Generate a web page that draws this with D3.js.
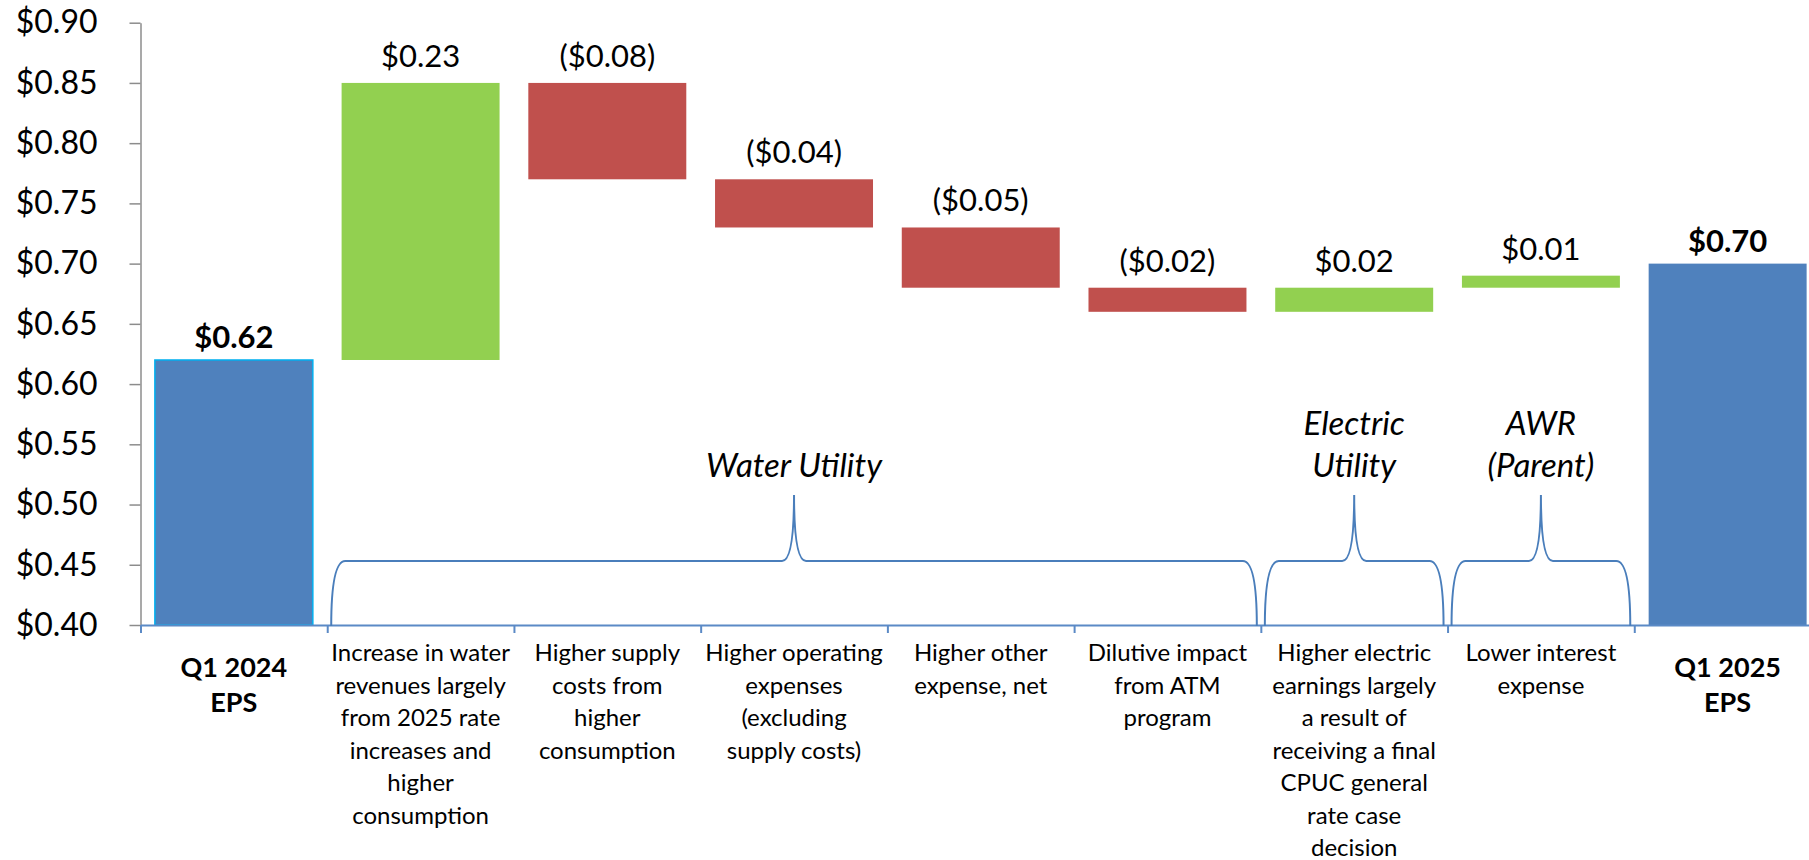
<!DOCTYPE html>
<html>
<head>
<meta charset="utf-8">
<script src="https://cdn.jsdelivr.net/npm/d3@7"></script>
<style>
  body { margin: 0; background: #fff; }
  text { font-family: Lato, Carlito, Calibri, sans-serif; fill: #000; }
</style>
</head>
<body>
<svg id="chart" width="1809" height="860"></svg>
<script>
// categories, each split into the lines shown under the axis
const categoryLines = [
    ["Q1 2024", "EPS"],
    ["Increase in water", "revenues largely", "from 2025 rate", "increases and", "higher", "consumption"],
    ["Higher supply", "costs from", "higher", "consumption"],
    ["Higher operating", "expenses", "(excluding", "supply costs)"],
    ["Higher other", "expense, net"],
    ["Dilutive impact", "from ATM", "program"],
    ["Higher electric", "earnings largely", "a result of", "receiving a final", "CPUC general", "rate case", "decision"],
    ["Lower interest", "expense"],
    ["Q1 2025", "EPS"]
];
const barKinds = ["total", "delta", "delta", "delta", "delta", "delta", "delta", "delta", "total"];
const barValues = [0.62, 0.23, -0.08, -0.04, -0.05, -0.02, 0.02, 0.01, 0.70];

const yTicks = [0.40, 0.45, 0.50, 0.55, 0.60, 0.65, 0.70, 0.75, 0.80, 0.85, 0.90];

// segment braces: label lines + first/last category index covered
const groupLabels = [["Water Utility"], ["Electric", "Utility"], ["AWR", "(Parent)"]];
const groupFirst = [1, 6, 7];
const groupLast = [5, 6, 7];

const svg = d3.select("#chart");
const plotLeft = 140.5, plotRight = 1821, plotTop = 22.7, plotBottom = 625;
const baseValue = yTicks[0];

const y = d3.scaleLinear().domain([0.40, 0.90]).range([plotBottom, plotTop]);
const idx = d3.range(categoryLines.length);
const x = d3.scaleBand().domain(idx).range([plotLeft, plotRight])
    .paddingInner(0.154).paddingOuter(0.077);
const xEdge = d3.scaleLinear().domain([0, idx.length]).range([plotLeft, plotRight]);

// running totals for the waterfall
let running = 0;
const bars = barValues.map((v, i) => {
    let start, end;
    if (barKinds[i] === "total") {
        start = baseValue; end = v; running = v;
    } else {
        start = running; end = running + v; running = end;
    }
    return { i, v, kind: barKinds[i], start, end };
});

const colors = { total: "#4F81BD", up: "#92D050", down: "#C0504D" };
const fmt = d3.format(".2f");
const money = (v) => (v < 0 ? `($${fmt(-v)})` : `$${fmt(v)}`);

// y axis
const yAxis = svg.append("g")
    .attr("transform", `translate(${plotLeft},0)`)
    .call(d3.axisLeft(y).tickValues(yTicks).tickSize(11).tickSizeOuter(0).tickPadding(32).tickFormat((d) => `$${fmt(d)}`));
yAxis.select(".domain").attr("stroke", "#8C8C8C").attr("stroke-width", 1.5);
yAxis.selectAll(".tick line").attr("stroke", "#8C8C8C").attr("stroke-width", 1.5);
yAxis.selectAll(".tick text")
    .attr("font-size", 32)
    .attr("font-family", "Lato, Carlito, Calibri, sans-serif")
    .attr("fill", "#000");

// bars
svg.append("g")
    .selectAll("rect")
    .data(bars)
    .enter()
    .append("rect")
    .attr("x", (d) => x(d.i))
    .attr("width", x.bandwidth())
    .attr("y", (d) => y(Math.max(d.start, d.end)))
    .attr("height", (d) => Math.abs(y(d.start) - y(d.end)))
    .attr("fill", (d) => (d.kind === "total" ? colors.total : d.v >= 0 ? colors.up : colors.down))
    .attr("stroke", (d) => (d.i === 0 ? "#00B0F0" : "none"))
    .attr("stroke-width", 1.5);

// value labels
svg.append("g")
    .selectAll("text")
    .data(bars)
    .enter()
    .append("text")
    .attr("x", (d) => x(d.i) + x.bandwidth() / 2)
    .attr("y", (d) => y(Math.max(d.start, d.end)) - (d.kind === "total" ? 12 : 16))
    .attr("text-anchor", "middle")
    .attr("font-size", (d) => (d.kind === "total" ? 31 : 31))
    .attr("font-weight", (d) => (d.kind === "total" ? "bold" : "normal"))
    .text((d) => money(d.v));

// x axis with ticks on category edges
const xAxis = svg.append("g")
    .attr("transform", `translate(0,${plotBottom})`)
    .call(d3.axisBottom(xEdge).tickValues(d3.range(idx.length + 1)).tickSize(8).tickSizeOuter(0).tickFormat(""));
xAxis.select(".domain").attr("stroke", "#5B8AC6").attr("stroke-width", 2);
xAxis.selectAll(".tick line").attr("stroke", "#5B8AC6").attr("stroke-width", 2);

// category labels
const catG = svg.append("g")
    .selectAll("text")
    .data(categoryLines)
    .enter()
    .append("text")
    .attr("text-anchor", "middle")
    .attr("font-size", (d, i) => (barKinds[i] === "total" ? 27 : 24))
    .attr("font-weight", (d, i) => (barKinds[i] === "total" ? "bold" : "normal"));

catG.each(function (lines, i) {
    const bold = barKinds[i] === "total";
    const cx = x(i) + x.bandwidth() / 2;
    d3.select(this)
        .selectAll("tspan")
        .data(lines)
        .enter()
        .append("tspan")
        .attr("x", cx)
        .attr("y", (l, k) => (bold ? 677 : 661) + k * (bold ? 35 : 32.5))
        .text((l) => l);
});

// braces
const flatY = plotBottom - 64;
const tipY = plotBottom - 130;
const r = 14;
const tipW = 12;

function bracePath(x0, x1) {
    const tx = (x0 + x1) / 2;
    return `M${x0},${plotBottom + 1} Q${x0},${flatY} ${x0 + r},${flatY}`
        + ` L${tx - tipW},${flatY} Q${tx},${flatY} ${tx},${tipY}`
        + ` Q${tx},${flatY} ${tx + tipW},${flatY}`
        + ` L${x1 - r},${flatY} Q${x1},${flatY} ${x1},${plotBottom + 1}`;
}

const groups = groupLabels.map((lines, g) => ({
    lines,
    x0: xEdge(groupFirst[g]) + 4,
    x1: xEdge(groupLast[g] + 1) - 4
}));

svg.append("g")
    .selectAll("path")
    .data(groups)
    .enter()
    .append("path")
    .attr("d", (d) => bracePath(d.x0, d.x1))
    .attr("fill", "none")
    .attr("stroke", "#4A7EBB")
    .attr("stroke-width", 2);

const grpText = svg.append("g")
    .selectAll("text")
    .data(groups)
    .enter()
    .append("text")
    .attr("text-anchor", "middle")
    .attr("font-size", 33)
    .attr("font-style", "italic");

grpText.each(function (d) {
    const n = d.lines.length;
    d3.select(this)
        .selectAll("tspan")
        .data(d.lines)
        .enter()
        .append("tspan")
        .attr("x", (d.x0 + d.x1) / 2)
        .attr("y", (l, k) => tipY - 18 - (n - 1 - k) * 42.5)
        .text((l) => l);
});
</script>
</body>
</html>
